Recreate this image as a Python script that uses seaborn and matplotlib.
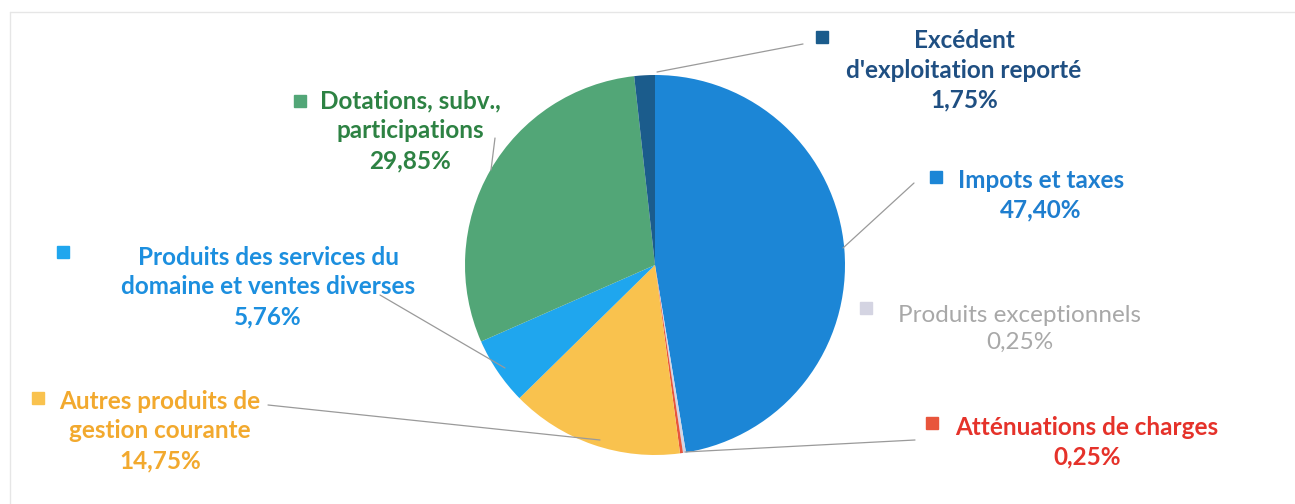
import matplotlib
matplotlib.use("Agg")
import matplotlib.pyplot as plt
import seaborn as sns

# values (clockwise from the top)
categories = [
    "Impots et taxes",
    "Produits exceptionnels",
    "Atténuations de charges",
    "Autres produits de\ngestion courante",
    "Produits des services du\ndomaine et ventes diverses",
    "Dotations, subv.,\nparticipations",
    "Excédent\nd'exploitation reporté",
]
shares = [47.40, 0.25, 0.25, 14.75, 5.76, 29.85, 1.75]
labels_pct = ["47,40%", "0,25%", "0,25%", "14,75%", "5,76%", "29,85%", "1,75%"]

slice_colors = ["#1C86D6", "#D4D4E2", "#E8553C", "#F9C24E", "#1FA6EE", "#52A677", "#1B5C8C"]
text_colors = ["#1E7ECF", "#A8A8A8", "#E5322A", "#F2A92E", "#1C8FDF", "#2D8243", "#1F4F82"]

sns.set_theme(style="white")
plt.rcParams["font.family"] = ["Lato", "DejaVu Sans"]

W, H = 1295, 504
fig = plt.figure(figsize=(W / 100, H / 100), dpi=100)
ax = fig.add_axes([0, 0, 1, 1])

def py(y):
    # pixel row (from top) to data y
    return H - y

cx, cy, r = 655, 265, 190
ax.pie(shares, colors=slice_colors, startangle=90, counterclock=False,
       center=(cx, py(cy)), radius=r, frame=True,
       wedgeprops=dict(linewidth=0))
ax.set_xlim(0, W)
ax.set_ylim(0, H)
ax.set_aspect("equal")
ax.axis("off")

# label placement: (text centre x, text centre y, square x, square y)
label_pos = [
    (1041, 195, 936, 177),
    (1020, 329, 866, 308),
    (1087, 442, 932, 423),
    (160, 431, 38, 398),
    (268, 287, 63, 252),
    (410, 131, 300, 101),
    (964, 70, 822, 37),
]
leaders = [
    ((843, 248), (914, 183)),
    None,
    ((685, 452), (915, 440)),
    ((268, 405), (600, 440)),
    ((380, 295), (505, 368)),
    ((495, 138), (491, 170)),
    ((657, 72), (803, 44)),
]

for i, cat in enumerate(categories):
    tx, ty, sx, sy = label_pos[i]
    weight = "normal" if i == 1 else "bold"
    ax.text(tx, py(ty), cat + "\n" + labels_pct[i], ha="center", va="center",
            multialignment="center", fontsize=17.5, fontweight=weight,
            color=text_colors[i], linespacing=1.36)
    ax.plot([sx], [py(sy)], marker="s", markersize=8, color=slice_colors[i],
            linestyle="none")
    if leaders[i] is not None:
        (x0, y0), (x1, y1) = leaders[i]
        ax.plot([x0, x1], [py(y0), py(y1)], color="#9A9A9A", linewidth=0.9)

# faint chart-area frame
ax.plot([10, W], [py(12), py(12)], color="#E6E6E6", linewidth=1)
ax.plot([10, 10], [py(12), 0], color="#E6E6E6", linewidth=1)

fig.savefig("out.png", dpi=100, facecolor="white")
plt.close(fig)
